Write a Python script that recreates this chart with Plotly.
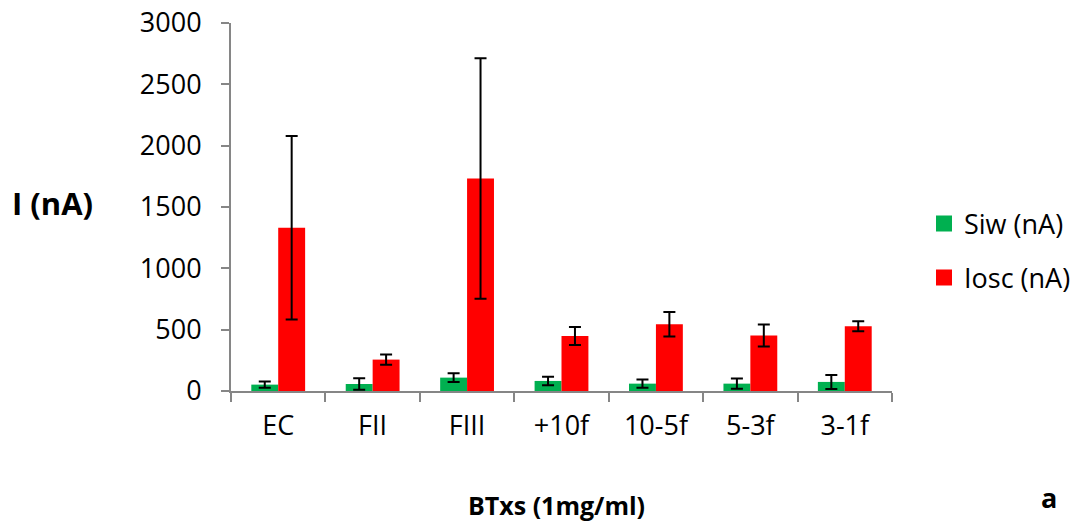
import plotly.graph_objects as go

categories = ["EC", "FII", "FIII", "+10f", "10-5f", "5-3f", "3-1f"]
siw = [52, 57, 109, 82, 60, 60, 74]
siw_err = [25, 46, 35, 35, 33, 42, 57]
iosc = [1330, 256, 1733, 449, 544, 452, 528]
iosc_err = [748, 41, 980, 73, 100, 90, 41]
y_ticks = [0, 500, 1000, 1500, 2000, 2500, 3000]

FONT = "Open Sans, Liberation Sans, sans-serif"
W, H = 1080, 525

# plot area in page pixels: x 231..892, y 23..391
L, T = 231, 23
R = W - 892
B = H - 391
pw = W - L - R
ph = H - T - B


def px_x(x):
    return (x - L) / pw


def px_y(y):
    return (H - B - y) / ph


GREEN, RED = "#00B050", "#FF0000"

fig = go.Figure()
fig.add_trace(go.Bar(
    x=categories, y=siw, name="Siw (nA)", marker_color=GREEN,
    marker_line_width=0, showlegend=False,
    error_y=dict(type="data", array=siw_err, color="black", thickness=2, width=6),
))
fig.add_trace(go.Bar(
    x=categories, y=iosc, name="Iosc (nA)", marker_color=RED,
    marker_line_width=0, showlegend=False,
    error_y=dict(type="data", array=iosc_err, color="black", thickness=2, width=6),
))
# legend entries (square swatches)
fig.add_trace(go.Scatter(
    x=[None], y=[None], mode="markers", name="Siw (nA)",
    marker=dict(symbol="square", size=18, color=GREEN), legend="legend",
))
fig.add_trace(go.Scatter(
    x=[None], y=[None], mode="markers", name="Iosc (nA)",
    marker=dict(symbol="square", size=18, color=RED), legend="legend2",
))

leg_common = dict(xanchor="left", yanchor="middle", font=dict(size=27),
                  bgcolor="rgba(0,0,0,0)", itemwidth=30, borderwidth=0)

fig.update_layout(
    width=W, height=H,
    margin=dict(l=L, r=R, t=T, b=B, pad=0, autoexpand=False),
    paper_bgcolor="white", plot_bgcolor="white",
    barmode="group", bargap=0.43, bargroupgap=0,
    font=dict(family=FONT, size=27, color="black"),
    showlegend=True,
    legend=dict(x=px_x(924), y=px_y(224), **leg_common),
    legend2=dict(x=px_x(924), y=px_y(278), **leg_common),
    xaxis=dict(
        showline=True, linecolor="#868686", linewidth=2,
        ticks="outside", ticklen=9, tickcolor="#868686", tickwidth=2,
        tickson="boundaries", showgrid=False, automargin=False,
        tickfont=dict(size=27), ticklabelstandoff=10,
    ),
    yaxis=dict(
        range=[0, 3000], tickvals=y_ticks,
        showline=True, linecolor="#868686", linewidth=2,
        ticks="outside", ticklen=8, tickcolor="#868686", tickwidth=2,
        showgrid=False, zeroline=False, automargin=False,
        tickfont=dict(size=27), ticklabelstandoff=14,
        ticklabeloverflow="allow",
    ),
    annotations=[
        dict(text="<b>I (nA)</b>", xref="paper", yref="paper",
             x=px_x(53), y=px_y(203), xanchor="center", yanchor="middle",
             showarrow=False, font=dict(size=31)),
        dict(text="<b>BTxs (1mg/ml)</b>", xref="paper", yref="paper",
             x=px_x(556), y=px_y(505), xanchor="center", yanchor="middle",
             showarrow=False, font=dict(size=25)),
        dict(text="<b>a</b>", xref="paper", yref="paper",
             x=px_x(1049), y=px_y(497), xanchor="center", yanchor="middle",
             showarrow=False, font=dict(size=27)),
    ],
)

fig.write_html("out.html", config={"displayModeBar": False},
               post_script="document.body.style.margin='0';")
